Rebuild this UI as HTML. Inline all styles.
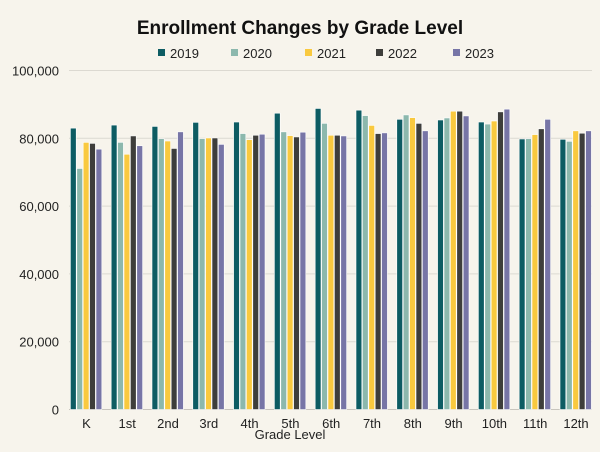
<!DOCTYPE html>
<html><head><meta charset="utf-8"><style>
html,body{margin:0;padding:0;background:#f7f4ec;}
svg{display:block;font-family:"Liberation Sans",sans-serif;}
</style></head><body>
<svg id="chart" width="600" height="452">
<rect width="600" height="452" fill="#f7f4ec"/>
<text x="300" y="34" text-anchor="middle" font-size="19" font-weight="bold" fill="#111">Enrollment Changes by Grade Level</text>
<g id="legend"></g>
<g id="grid"></g>
<g id="yaxis"></g>
<g id="bars"></g>
<g id="xaxis"></g>
<text x="290" y="439" text-anchor="middle" font-size="13" fill="#222">Grade Level</text>
</svg>
<script>
const categories=["K","1st","2nd","3rd","4th","5th","6th","7th","8th","9th","10th","11th","12th"];
const seriesNames=["2019","2020","2021","2022","2023"];
const s2019=[83.0,83.9,83.5,84.7,84.8,87.4,88.8,88.3,85.6,85.4,84.8,79.8,79.7];
const s2020=[71.1,78.8,79.9,79.9,81.4,81.9,84.4,86.7,86.9,86.0,84.2,79.9,79.1];
const s2021=[78.8,75.3,79.2,80.1,79.6,80.8,80.9,83.8,86.1,88.0,85.1,81.1,82.2];
const s2022=[78.5,80.7,77.0,80.1,80.9,80.4,80.9,81.4,84.4,88.0,87.8,82.8,81.5];
const s2023=[76.8,77.8,81.9,78.2,81.2,81.8,80.7,81.6,82.2,86.6,88.6,85.6,82.2];
const yTicks=[0,20000,40000,60000,80000,100000];
const yTickLabels=["0","20,000","40,000","60,000","80,000","100,000"];
const series=[s2019,s2020,s2021,s2022,s2023];
const colors=["#0d5c63","#8cb8ad","#f9c93f","#3e3e3b","#7775a6"];
const NS="http://www.w3.org/2000/svg";
const y0=409.5, y1=70.5, left=66, band=40.8;
function yScale(v){return y0-(v/100000)*(y0-y1);}
function xCenter(i){return left+band*(i+0.5);}
function mk(tag,attrs,parent){const e=document.createElementNS(NS,tag);for(const k in attrs)e.setAttribute(k,attrs[k]);parent.appendChild(e);return e;}
const grid=document.getElementById('grid'),yax=document.getElementById('yaxis'),bars=document.getElementById('bars'),xax=document.getElementById('xaxis'),leg=document.getElementById('legend');
yTicks.forEach((t,i)=>{
 const y=yScale(t);
 const l=mk('line',{x1:69,x2:592,y1:y,y2:y,stroke:t===0?'#c8c5bd':'#dcd9d1','stroke-width':1},grid);
 
 
 const tx=mk('text',{x:59,y:y+5,'text-anchor':'end','font-size':13,fill:'#222'},yax);
 tx.textContent=yTickLabels[i];
 
 
});
const step=6.4,bw=5.8;
categories.forEach((c,i)=>{
 const cx=xCenter(i);
 series.forEach((s,j)=>{
  const x=cx-2.5*step+j*step;
  const y=yScale(s[i]*1000);
  const r=mk('rect',{x:x,y:y,width:bw,height:y0-y,fill:colors[j],stroke:'#ffffff','stroke-width':0.6},bars);
  
  
 });
 const t=mk('text',{x:cx,y:428,'text-anchor':'middle','font-size':13,fill:'#222'},xax);
 t.textContent=c;
 
 
});
const legX=[161,234,308,379,456];
seriesNames.forEach((n,j)=>{
 const g=mk('g',{},leg);
 
 
 mk('rect',{x:legX[j]-3,y:49,width:7,height:7,fill:colors[j]},g);
 const t=mk('text',{x:legX[j]+9,y:58,'font-size':13,fill:'#222'},g);
 t.textContent=n;
});
</script>
</body></html>
